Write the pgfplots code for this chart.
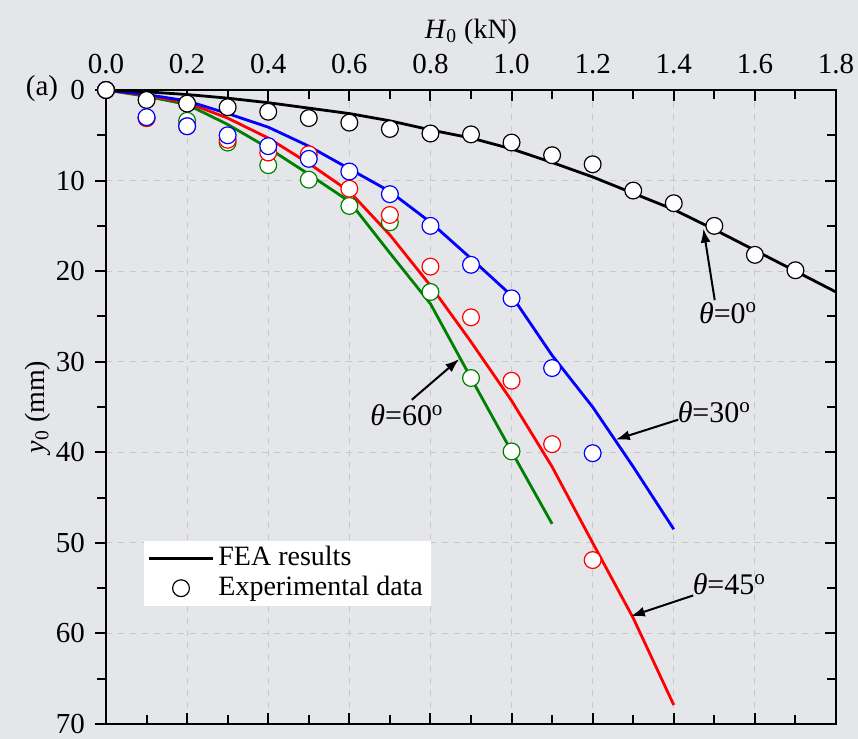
\documentclass[border=0pt]{standalone}
\usepackage{fontspec}
\setmainfont{Liberation Serif}
\usepackage{pgfplots}
\pgfplotsset{compat=1.18}
\usetikzlibrary{arrows.meta}
\definecolor{bg}{RGB}{229,230,234}
\definecolor{gridc}{RGB}{200,200,203}
\definecolor{dgreen}{RGB}{0,128,0}

\pgfplotstableread{
x y
0 0
0.1 0.2
0.2 0.5
0.3 0.9
0.4 1.4
0.5 2.0
0.6 2.6
0.7 3.4
0.8 4.4
0.9 5.3
1.0 6.5
1.1 8.0
1.2 9.6
1.3 11.4
1.4 13.2
1.5 15.4
1.6 17.7
1.7 20.0
1.8 22.3
}\feaA
\pgfplotstableread{
x y
0 0
0.1 0.5
0.2 1.2
0.3 2.6
0.4 4.1
0.5 6.2
0.6 8.7
0.7 11.2
0.8 14.6
0.9 18.6
1.0 22.7
1.1 29.3
1.2 35.0
1.3 41.6
1.4 48.5
}\feaB
\pgfplotstableread{
x y
0 0
0.1 0.6
0.2 1.4
0.3 3.1
0.4 5.3
0.5 8.1
0.6 11.2
0.7 16.0
0.8 21.6
0.9 27.8
1.0 34.3
1.1 41.6
1.2 50.0
1.3 58.3
1.4 67.9
}\feaC
\pgfplotstableread{
x y
0 0
0.1 0.7
0.2 1.6
0.3 3.8
0.4 6.4
0.5 9.3
0.6 12.3
0.7 18.0
0.8 23.6
0.9 31.8
1.0 39.9
1.1 47.9
}\feaD
\pgfplotstableread{
x y
0 0
0.1 1.1
0.2 1.5
0.3 1.9
0.4 2.4
0.5 3.1
0.6 3.6
0.7 4.3
0.8 4.8
0.9 4.9
1.0 5.8
1.1 7.2
1.2 8.2
1.3 11.1
1.4 12.5
1.5 15.0
1.6 18.2
1.7 19.9
}\expA
\pgfplotstableread{
x y
0 0
0.1 3.0
0.2 4.0
0.3 5.0
0.4 6.2
0.5 7.6
0.6 9.0
0.7 11.5
0.8 15.0
0.9 19.3
1.0 23.0
1.1 30.7
1.2 40.1
}\expB
\pgfplotstableread{
x y
0 0
0.1 3.1
0.2 4.0
0.3 5.5
0.4 6.9
0.5 7.1
0.6 10.9
0.7 13.8
0.8 19.5
0.9 25.1
1.0 32.1
1.1 39.1
1.2 51.9
}\expC
\pgfplotstableread{
x y
0 0
0.1 3.1
0.2 3.4
0.3 5.8
0.4 8.3
0.5 9.9
0.6 12.8
0.7 14.6
0.8 22.3
0.9 31.8
1.0 39.9
}\expD

\begin{document}
\fontsize{14.5}{17}\selectfont
\begin{tikzpicture}
\fill[bg] (-53pt,-7.5pt) rectangle (376pt,362pt);
\begin{axis}[
  at={(0,0)}, anchor=south west,
  scale only axis, width=365pt, height=317pt,
  xmin=0, xmax=1.8, ymin=0, ymax=70, y dir=reverse,
  xtick={0,0.2,0.4,0.6,0.8,1.0,1.2,1.4,1.6,1.8},
  xticklabels={0.0,0.2,0.4,0.6,0.8,1.0,1.2,1.4,1.6,1.8},
  minor x tick num=1,
  ytick={0,10,20,30,40,50,60,70},
  minor y tick num=1,
  xtick pos=both, xticklabel pos=upper, xtick align=inside,
  ytick pos=left, ytick align=outside,
  /pgf/number format/assume math mode=true,
  ticklabel style={font=\fontsize{14.5}{17}\selectfont},
  xticklabel style={yshift=3pt},
  label style={font=\fontsize{14}{17}\selectfont},
  xlabel style={yshift=-5pt},
  ylabel style={yshift=-7pt},
  xlabel={\textit{H}\textsubscript{0} (kN)},
  ylabel={\textit{y}\textsubscript{0} (mm)},
  grid=major, grid style={dashed, gridc, line width=0.5pt},
  axis line style={line width=1.2pt},
  tick style={line width=1pt, black},
  major tick length=5.5pt, minor tick length=4.5pt,
  legend style={at={(axis description cs:0.051,0.29)}, anchor=north west,
    fill=white, draw=none, font=\fontsize{14}{17}\selectfont,
    inner xsep=2pt, inner ysep=1pt, row sep=-1pt},
  legend cell align=left,
  legend image code/.code={\draw[mark repeat=2,mark phase=2,#1] plot coordinates {(0pt,0pt) (16pt,0pt) (32pt,0pt)};},
  every axis plot/.append style={line width=1.4pt},
]
\addlegendimage{black, line width=1.4pt}
\addlegendentry{FEA results}
\addlegendimage{only marks, mark=*, mark size=4.2pt, mark options={fill=white, draw=black, line width=0.6pt}}
\addlegendentry{Experimental data}

\addplot[dgreen, forget plot] table {\feaD};
\addplot[red, forget plot] table {\feaC};
\addplot[blue, forget plot] table {\feaB};
\addplot[black, forget plot] table {\feaA};

\addplot[only marks, mark=*, mark size=4.2pt, mark options={fill=white, draw=dgreen, line width=0.6pt}, forget plot] table {\expD};
\addplot[only marks, mark=*, mark size=4.2pt, mark options={fill=white, draw=red, line width=0.6pt}, forget plot] table {\expC};
\addplot[only marks, mark=*, mark size=4.2pt, mark options={fill=white, draw=blue, line width=0.6pt}, forget plot] table {\expB};
\addplot[only marks, mark=*, mark size=4.2pt, mark options={fill=white, draw=black, line width=0.6pt}, forget plot] table {\expA};

\draw[-{Latex[length=7pt,width=5pt]}, line width=1pt] (axis cs:1.501,23.2) -- (axis cs:1.473,15.3);
\node at (axis cs:1.534,24.6) {\fontsize{15}{18}\selectfont\textit{θ}=0\textsuperscript{o}};
\draw[-{Latex[length=7pt,width=5pt]}, line width=1pt] (axis cs:1.411,36.4) -- (axis cs:1.257,38.6);
\node at (axis cs:1.500,35.6) {\fontsize{15}{18}\selectfont\textit{θ}=30\textsuperscript{o}};
\draw[-{Latex[length=7pt,width=5pt]}, line width=1pt] (axis cs:1.448,55.8) -- (axis cs:1.294,58.1);
\node at (axis cs:1.537,54.6) {\fontsize{15}{18}\selectfont\textit{θ}=45\textsuperscript{o}};
\draw[-{Latex[length=7pt,width=5pt]}, line width=1pt] (axis cs:0.754,34.2) -- (axis cs:0.871,29.7);
\node at (axis cs:0.742,35.9) {\fontsize{15}{18}\selectfont\textit{θ}=60\textsuperscript{o}};
\end{axis}
\begin{axis}[
  at={(0,0)}, anchor=south west,
  scale only axis, width=365pt, height=317pt,
  xmin=0, xmax=1.8, ymin=0, ymax=70, y dir=reverse,
  axis x line=none, axis y line*=right,
  ytick={0,10,20,30,40,50,60,70}, minor y tick num=1,
  yticklabels={}, ytick align=inside,
  axis line style={line width=1.2pt},
  tick style={line width=1pt, black},
  major tick length=5.5pt, minor tick length=4.5pt,
]
\end{axis}
\node at (-32pt,317.5pt) {(a)};
\pgfresetboundingbox
\path (-53pt,-7.5pt) rectangle (376pt,362pt);
\end{tikzpicture}
\end{document}
